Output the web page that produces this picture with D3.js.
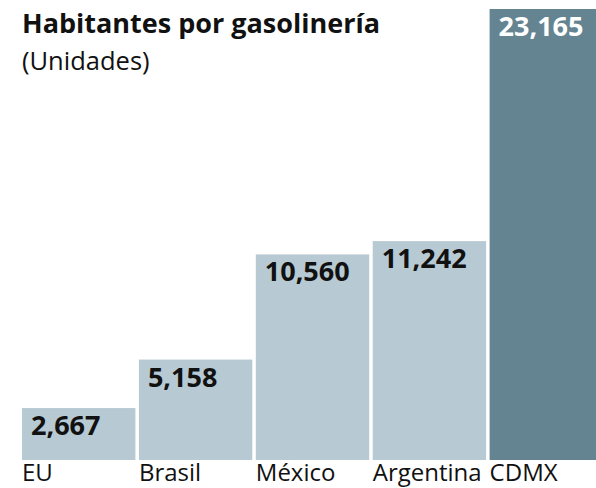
<!DOCTYPE html>
<html>
<head>
<meta charset="utf-8">
<script src="https://cdn.jsdelivr.net/npm/d3@7"></script>
<style>
  body { margin: 0; background: #fff; }
  svg { display: block; font-family: "Open Sans", sans-serif; }
</style>
</head>
<body>
<svg id="chart"></svg>
<script>
// data
const categories = ["EU", "Brasil", "México", "Argentina", "CDMX"];
const values = [2667, 5158, 10560, 11242, 23165];
const valueLabels = ["2,667", "5,158", "10,560", "11,242", "23,165"];
const highlight = ["CDMX"];

const w = 596, h = 488;
const svg = d3.select("#chart").attr("width", w).attr("height", h);

const x = d3.scaleBand().domain(categories).range([22, 603]).paddingInner(0.03).paddingOuter(0);
const y = d3.scaleLinear().domain([0, d3.max(values)]).range([460, 9]);

const rows = categories.map((c, i) => ({cat: c, value: values[i], label: valueLabels[i]}));

// bars
svg.selectAll("rect.bar")
    .data(rows)
    .join("rect")
    .attr("class", "bar")
    .attr("x", d => x(d.cat))
    .attr("y", d => y(d.value))
    .attr("width", x.bandwidth())
    .attr("height", d => y(0) - y(d.value))
    .attr("fill", d => highlight.includes(d.cat) ? "#648492" : "#b7c9d2");

// value labels inside bar tops
svg.selectAll("text.val")
    .data(rows)
    .join("text")
    .attr("class", "val")
    .attr("x", d => x(d.cat) + 9)
    .attr("y", d => y(d.value) + 27)
    .attr("font-size", 27)
    .attr("font-weight", 700)
    .attr("fill", d => highlight.includes(d.cat) ? "#fff" : "#111")
    .text(d => d.label);

// category labels
svg.selectAll("text.cat")
    .data(rows)
    .join("text")
    .attr("class", "cat")
    .attr("x", d => x(d.cat))
    .attr("y", 481)
    .attr("font-size", 24)
    .attr("fill", "#111")
    .text(d => d.cat);

// title
svg.append("text")
    .attr("x", 22).attr("y", 33)
    .attr("font-size", 27)
    .attr("font-weight", 700)
    .attr("fill", "#111")
    .text("Habitantes por gasolinería");

svg.append("text")
    .attr("x", 22).attr("y", 70)
    .attr("font-size", 25.5)
    .attr("fill", "#111")
    .text("(Unidades)");
</script>
</body>
</html>
